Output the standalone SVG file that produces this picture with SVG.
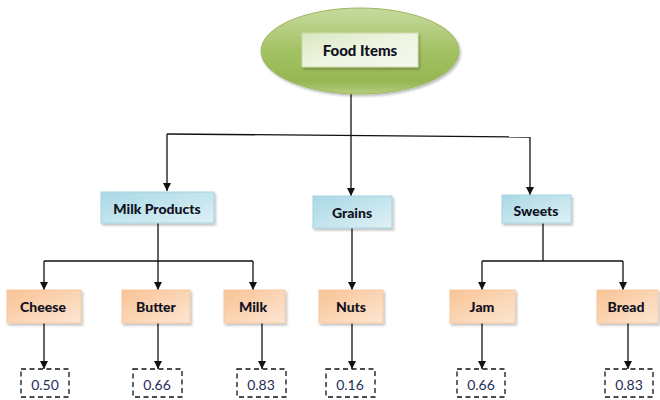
<svg xmlns="http://www.w3.org/2000/svg" width="660" height="400" viewBox="0 0 660 400">
<style>
.lbl{font-family:Lato,"Liberation Sans",sans-serif;font-weight:900;font-size:14px;fill:#111122;text-anchor:middle;dominant-baseline:central}
.val{font-family:Lato,"Liberation Sans",sans-serif;font-size:14px;fill:#1f2d5a;text-anchor:middle;dominant-baseline:central}
.blue{fill:url(#gBlue);stroke:#a5d3e0;stroke-width:1;filter:url(#sh)}
.orange{fill:url(#gOrange);stroke:#f6c9a3;stroke-width:1;filter:url(#sh)}
.dash{fill:#fff;stroke:#111;stroke-width:1.3;stroke-dasharray:5,3.5}
.con{fill:none;stroke:#111;stroke-width:1.3}
.arr{fill:none;stroke:#111;stroke-width:1.3;marker-end:url(#ah)}
</style>
<defs>
<linearGradient id="gEll" x1="0" y1="0" x2="0" y2="1">
<stop offset="0" stop-color="#c6da9f"/>
<stop offset="0.5" stop-color="#a3c263"/>
<stop offset="0.85" stop-color="#96b653"/>
<stop offset="1" stop-color="#b5cd82"/>
</linearGradient>
<linearGradient id="gIn" x1="0" y1="0" x2="1" y2="1">
<stop offset="0" stop-color="#d9e7bf"/>
<stop offset="0.5" stop-color="#eef4e2"/>
<stop offset="1" stop-color="#f6f9ef"/>
</linearGradient>
<linearGradient id="gBlue" x1="0" y1="0" x2="1" y2="1">
<stop offset="0" stop-color="#a9d8e5"/>
<stop offset="0.55" stop-color="#c6e6ee"/>
<stop offset="1" stop-color="#dff0f5"/>
</linearGradient>
<linearGradient id="gOrange" x1="0" y1="0" x2="1" y2="1">
<stop offset="0" stop-color="#f9c396"/>
<stop offset="0.55" stop-color="#fbd6b6"/>
<stop offset="1" stop-color="#fde6d3"/>
</linearGradient>
<filter id="sh" x="-20%" y="-20%" width="150%" height="160%">
<feDropShadow dx="1.5" dy="2" stdDeviation="1.2" flood-color="#000" flood-opacity="0.25"/>
</filter>
<marker id="ah" viewBox="0 0 10 10" refX="10" refY="5" markerWidth="8" markerHeight="8" markerUnits="userSpaceOnUse" orient="auto">
<path d="M0,0 L10,5 L0,10 z" fill="#111"/>
</marker>
</defs>
<g id="connectors">
<path class="con" d="M351,93 V135"/>
<path class="con" d="M167,134 L530,137"/>
<path class="arr" d="M167,134 V191"/>
<path class="arr" d="M351,135 V196"/>
<path class="arr" d="M530,137 V195"/>
<path class="con" d="M158,223 V261 M44,261 H253"/>
<path class="arr" d="M44,261 V290"/>
<path class="arr" d="M158,261 V290"/>
<path class="arr" d="M253,261 V290"/>
<path class="arr" d="M352,228 V290"/>
<path class="con" d="M543,223 V261 M482,261 H623"/>
<path class="arr" d="M482,261 V290"/>
<path class="arr" d="M623,261 V290"/>
<path class="arr" d="M44,323 V369"/>
<path class="arr" d="M158,323 V369"/>
<path class="arr" d="M262,323 V369"/>
<path class="arr" d="M352,323 V369"/>
<path class="arr" d="M482,323 V369"/>
<path class="arr" d="M628,323 V369"/>
</g>
<g id="food-items">
<ellipse cx="360" cy="51" rx="99" ry="43" fill="url(#gEll)" stroke="#9cb95d" stroke-width="1" filter="url(#sh)"/>
<rect x="302" y="33" width="116" height="34" fill="url(#gIn)" stroke="#cbdcaa" stroke-width="1" filter="url(#sh)"/>
<text class="lbl" x="360" y="50" style="font-size:15px">Food Items</text>
</g>
<g id="milk-products"><rect class="blue" x="101" y="192" width="113" height="31"/><text class="lbl" x="157" y="208">Milk Products</text></g>
<g id="grains"><rect class="blue" x="313" y="196" width="79" height="32"/><text class="lbl" x="352" y="212">Grains</text></g>
<g id="sweets"><rect class="blue" x="502" y="195" width="69" height="28"/><text class="lbl" x="536" y="210">Sweets</text></g>
<g id="cheese"><rect class="orange" x="7" y="290" width="74" height="33"/><text class="lbl" x="43" y="306">Cheese</text></g>
<g id="butter"><rect class="orange" x="122" y="290" width="68" height="33"/><text class="lbl" x="156" y="306">Butter</text></g>
<g id="milk"><rect class="orange" x="224" y="290" width="61" height="33"/><text class="lbl" x="253" y="306">Milk</text></g>
<g id="nuts"><rect class="orange" x="319" y="290" width="64" height="33"/><text class="lbl" x="351" y="306">Nuts</text></g>
<g id="jam"><rect class="orange" x="450" y="290" width="65" height="33"/><text class="lbl" x="482" y="306">Jam</text></g>
<g id="bread"><rect class="orange" x="597" y="290" width="61" height="33"/><text class="lbl" x="626" y="306">Bread</text></g>
<g id="v-cheese"><rect class="dash" x="21" y="369" width="48" height="28"/><text class="val" x="45" y="384">0.50</text></g>
<g id="v-butter"><rect class="dash" x="133" y="369" width="49" height="28"/><text class="val" x="157" y="384">0.66</text></g>
<g id="v-milk"><rect class="dash" x="237" y="369" width="49" height="28"/><text class="val" x="261" y="384">0.83</text></g>
<g id="v-nuts"><rect class="dash" x="326" y="369" width="49" height="28"/><text class="val" x="350" y="384">0.16</text></g>
<g id="v-jam"><rect class="dash" x="457" y="369" width="48" height="28"/><text class="val" x="481" y="384">0.66</text></g>
<g id="v-bread"><rect class="dash" x="605" y="369" width="48" height="28"/><text class="val" x="629" y="384">0.83</text></g>
</svg>
